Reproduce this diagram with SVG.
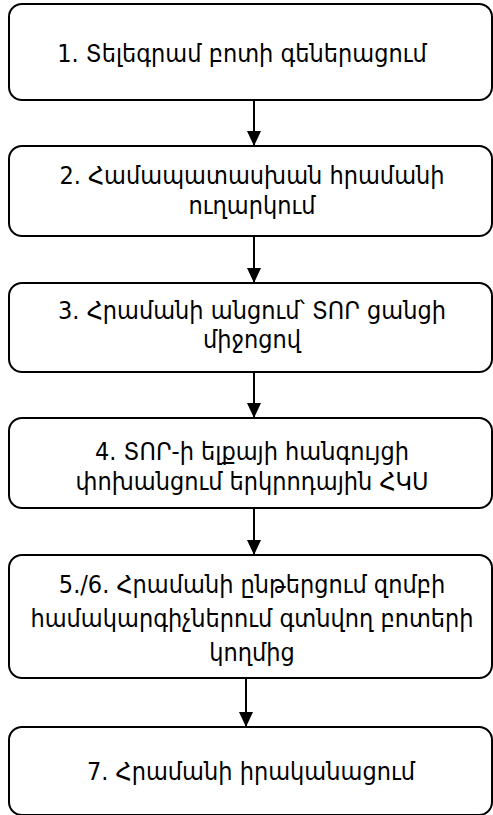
<svg xmlns="http://www.w3.org/2000/svg" width="493" height="815" viewBox="0 0 493 815">
<defs>
<style>
.box{fill:#fff;stroke:#000;stroke-width:2}
.t{font-family:"DejaVu Sans Condensed","DejaVu Sans",sans-serif;font-size:25px;fill:#000;text-anchor:middle}
.c{stroke:#000;stroke-width:2;fill:none}
</style>
<marker id="ah" markerWidth="14" markerHeight="15" refX="7" refY="15" orient="0" markerUnits="userSpaceOnUse" viewBox="0 0 14 15">
<path d="M0,0 L14,0 L7,15 Z" fill="#000"/>
</marker>
</defs>
<rect width="493" height="815" fill="#fff"/>
<g id="connectors">
<line class="c" x1="254" y1="100" x2="254" y2="146" marker-end="url(#ah)"/>
<line class="c" x1="254" y1="236" x2="254" y2="283" marker-end="url(#ah)"/>
<line class="c" x1="254" y1="372" x2="254" y2="418" marker-end="url(#ah)"/>
<line class="c" x1="254" y1="508" x2="254" y2="555" marker-end="url(#ah)"/>
<line class="c" x1="246" y1="678" x2="246" y2="727" marker-end="url(#ah)"/>
</g>
<g id="n1">
<rect class="box" x="9" y="4" width="483" height="96" rx="13"/>
<text class="t" x="242" y="62">1. Տելեգրամ բոտի գեներացում</text>
</g>
<g id="n2">
<rect class="box" x="9" y="146" width="483" height="90" rx="13"/>
<text class="t" x="252" y="184">2. Համապատասխան հրամանի</text>
<text class="t" x="252" y="214">ուղարկում</text>
</g>
<g id="n3">
<rect class="box" x="9" y="283" width="483" height="89" rx="13"/>
<text class="t" x="252" y="319">3. Հրամանի անցում՝ ՏՈՐ ցանցի</text>
<text class="t" x="252" y="348">միջոցով</text>
</g>
<g id="n4">
<rect class="box" x="9" y="418" width="483" height="90" rx="13"/>
<text class="t" x="252" y="460">4. ՏՈՐ-ի ելքայի հանգույցի</text>
<text class="t" x="252" y="490">փոխանցում երկրոդային ՀԿՍ</text>
</g>
<g id="n5">
<rect class="box" x="9" y="555" width="483" height="123" rx="13"/>
<text class="t" x="252" y="593">5./6. Հրամանի ընթերցում զոմբի</text>
<text class="t" x="252" y="627">համակարգիչներում գտնվող բոտերի</text>
<text class="t" x="252" y="661">կողմից</text>
</g>
<g id="n7">
<rect class="box" x="9" y="727" width="483" height="88" rx="13"/>
<text class="t" x="251" y="780">7. Հրամանի իրականացում</text>
</g>
</svg>
